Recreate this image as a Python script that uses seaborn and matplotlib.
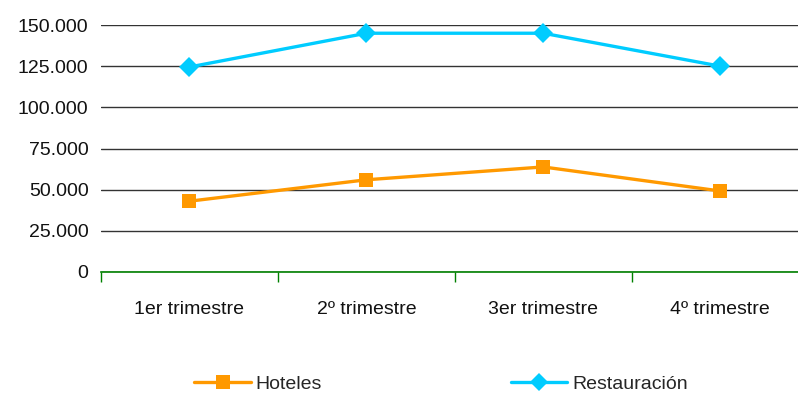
import numpy as np
import matplotlib
matplotlib.use("Agg")
import matplotlib.pyplot as plt
import matplotlib.ticker as mticker
import pandas as pd
import seaborn as sns

trimestres = ["1er trimestre", "2º trimestre", "3er trimestre", "4º trimestre"]
hoteles = [43000, 56000, 63800, 49200]
restauracion = [124500, 145000, 145000, 125000]
series = ["Hoteles", "Restauración"]

data = pd.DataFrame({
    "trimestre": trimestres * 2,
    "valor": hoteles + restauracion,
    "serie": [series[0]] * 4 + [series[1]] * 4,
})

sns.set_style("white")
plt.rcParams["font.family"] = ["Liberation Sans", "DejaVu Sans"]

fig = plt.figure(figsize=(7.98, 3.94), dpi=100)
ax = fig.add_axes([101 / 798, 122 / 394, 697 / 798, 247 / 394])

sns.lineplot(data=data, x="trimestre", y="valor", hue="serie", style="serie",
             palette={"Hoteles": "#FF9900", "Restauración": "#00CCFF"},
             markers={"Hoteles": "s", "Restauración": "D"}, dashes=False,
             markersize=10, markeredgewidth=0, linewidth=2.4, ax=ax,
             legend=False)
for ln in ax.lines:
    ln.set_clip_on(False)

ax.set_ylim(0, 150000)
ax.yaxis.set_major_locator(mticker.MultipleLocator(25000))
ax.yaxis.set_major_formatter(mticker.FuncFormatter(lambda v, p: f"{int(v):,}".replace(",", ".")))
ax.grid(axis="y", color="#333333", linewidth=1)
ax.set_axisbelow(True)
ax.tick_params(axis="y", length=0, labelsize=14, pad=9, labelcolor="#111111")

# category boundaries as tick marks, labels centred between them
ax.set_xticks(np.arange(-0.5, 4, 1))
ax.set_xticklabels([])
ax.set_xticks(np.arange(len(trimestres)), minor=True)
ax.set_xticklabels(trimestres, minor=True)
ax.set_xlim(-0.5, 3.44)
ax.tick_params(axis="x", which="major", bottom=True, length=7, width=1,
               color="#008000", direction="out")
ax.tick_params(axis="x", which="minor", bottom=True, length=0, labelsize=14,
               pad=21, labelcolor="#111111")
ax.set_xlabel("")
ax.set_ylabel("")

for s in ["left", "right", "top"]:
    ax.spines[s].set_visible(False)
ax.spines["bottom"].set_color("#008000")
ax.spines["bottom"].set_linewidth(1.2)

handles = [
    plt.Line2D([], [], color="#FF9900", marker="s", markersize=10, markeredgewidth=0, linewidth=2.4),
    plt.Line2D([], [], color="#00CCFF", marker="D", markersize=9, markeredgewidth=0, linewidth=2.4),
]
fig.legend(handles, series, loc="center", bbox_to_anchor=(441 / 798, 1 - 384 / 394),
           ncol=2, frameon=False, fontsize=14, handlelength=2.9, columnspacing=9.7,
           handletextpad=0.25)

fig.savefig("out.png", dpi=100)
